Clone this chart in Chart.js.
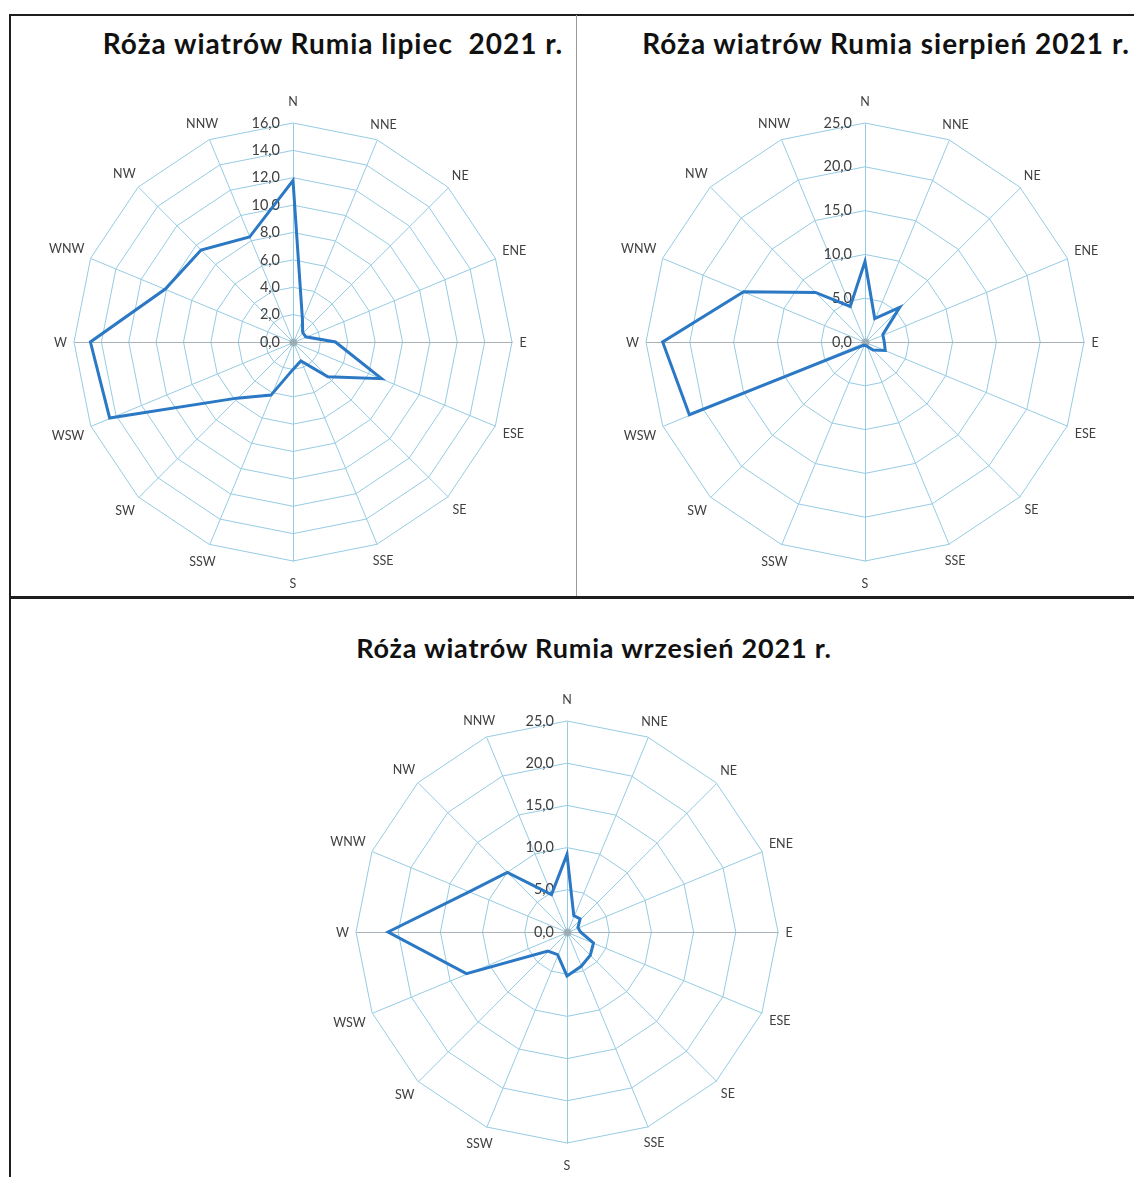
<!DOCTYPE html>
<html>
<head>
<meta charset="utf-8">
<script src="https://cdn.jsdelivr.net/npm/chart.js@4.4.1/dist/chart.umd.min.js"></script>
<style>
  body { margin: 0; background: #fff; }
  #page { position: relative; width: 1134px; height: 1177px; overflow: hidden; background: #fff; }
  .line { position: absolute; background: #1e1e1e; }
  .title { position: absolute; font-family: Lato, sans-serif; font-weight: bold; font-size: 28px;
           line-height: 28px; letter-spacing: 1px; color: #111; white-space: pre; text-align: center; }
  canvas { position: absolute; }
</style>
</head>
<body>
<div id="page">
  <div class="line" style="left:9px; top:14px; width:1125px; height:2px;"></div>
  <div class="line" style="left:9px; top:14px; width:2px; height:1163px;"></div>
  <div class="line" style="left:576px; top:15px; width:1px; height:582px; background:#9a9a9a;"></div>
  <div class="line" style="left:9px; top:596px; width:1125px; height:3px;"></div>

  <div class="title" id="t1" style="left:83px; top:29px; width:500px;"></div>
  <div class="title" id="t2" style="left:636px; top:29px; width:500px;"></div>
  <div class="title" id="t3" style="left:344px; top:634px; width:500px; font-size:27px; line-height:27px; letter-spacing:0.8px;"></div>

  <canvas id="chartJuly" width="565" height="581" style="left:10px; top:15px;"></canvas>
  <canvas id="chartAugust" width="558" height="581" style="left:576px; top:15px;"></canvas>
  <canvas id="chartSeptember" width="1124" height="579" style="left:10px; top:598px;"></canvas>
</div>

<script>
// data
const directions = ["N", "NNE", "NE", "ENE", "E", "ESE", "SE", "SSE", "S", "SSW", "SW", "WSW", "W", "WNW", "NW", "NNW"];
const julyValues = [11.8, 1.8, 1.0, 1.0, 3.1, 7.0, 3.6, 1.5, 2.0, 4.2, 5.8, 14.5, 14.8, 10.1, 9.5, 8.3];
const augustValues = [9.2, 2.9, 5.6, 2.2, 2.2, 2.5, 1.3, 0.5, 0.4, 0.4, 0.7, 21.7, 23.1, 15.0, 8.0, 4.4];
const septemberValues = [9.2, 2.1, 2.2, 1.4, 1.6, 3.4, 3.9, 4.4, 5.2, 2.9, 3.2, 12.9, 21.2, 12.5, 10.0, 4.8];
const titles = [
  "Róża wiatrów Rumia lipiec  2021 r.",
  "Róża wiatrów Rumia sierpień 2021 r.",
  "Róża wiatrów Rumia wrzesień 2021 r.",
];
const julyTicks = { max: 16, step: 2 };
const augustTicks = { max: 25, step: 5 };
const septemberTicks = { max: 25, step: 5 };

document.getElementById("t1").textContent = titles[0];
document.getElementById("t2").textContent = titles[1];
document.getElementById("t3").textContent = titles[2];

const gridBlue = "#96cbe3";
const textGray = "#404040";

// spokes, gray W-E axis, tick labels left of the N axis, compass labels round the outer ring
const roseLabels = {
  id: "roseLabels",
  beforeDatasetsDraw(chart) {
    const scale = chart.scales.r;
    const ctx = chart.ctx;
    const R = scale.drawingArea;
    const cx = scale.xCenter + 0.5;
    const cy = scale.yCenter + 0.5;
    ctx.save();
    ctx.lineWidth = 1;
    chart.data.labels.forEach(function (label, i) {
      const p = scale.getPointPosition(i, R);
      ctx.strokeStyle = i % 8 === 4 ? "#a7b1b6" : gridBlue;
      ctx.beginPath();
      ctx.moveTo(cx, cy);
      ctx.lineTo(p.x + 0.5 + (i % 4 === 2 ? 0.3 : 0), p.y + 0.5);
      ctx.stroke();
    });
    ctx.fillStyle = "rgba(150,150,150,0.55)";
    ctx.beginPath();
    ctx.arc(cx, cy, 4, 0, Math.PI * 2);
    ctx.fill();

    ctx.font = "14.5px Lato";
    ctx.fillStyle = textGray;
    ctx.textAlign = "right";
    ctx.textBaseline = "middle";
    scale.ticks.forEach(function (t) {
      const y = scale.yCenter - scale.getDistanceFromCenterForValue(t.value);
      ctx.fillText(t.value.toFixed(1).replace(".", ","), scale.xCenter - 13, y);
    });
    ctx.restore();
  },
  afterDraw(chart) {
    const scale = chart.scales.r;
    const ctx = chart.ctx;
    const R = scale.drawingArea;
    ctx.save();
    ctx.font = "12.5px Lato";
    ctx.fillStyle = textGray;
    ctx.textAlign = "center";
    ctx.textBaseline = "middle";
    chart.data.labels.forEach(function (label, i) {
      const p = scale.getPointPosition(i, 100);
      const sx = (p.x - scale.xCenter) / 100;
      const sy = (p.y - scale.yCenter) / 100;
      const w = ctx.measureText(label).width;
      const hw = Math.abs(sx) < 0.01 ? 0 : Math.sign(sx) * w / 2;
      const hh = Math.abs(sy) < 0.01 ? 0 : Math.sign(sy) * 6;
      const gap = Math.abs(sx) < 0.01 ? 16 : 7;
      let d = R;
      while (Math.hypot(d * sx - hw, d * sy - hh) < R + gap) d += 0.5;
      ctx.fillText(label, scale.xCenter + d * sx, scale.yCenter + d * sy + 1);
    });
    ctx.restore();
  },
};

function makeRose(id, values, ticks, padding) {
  const ctx = document.getElementById(id).getContext("2d");
  return new Chart(ctx, {
    type: "radar",
    data: {
      labels: directions,
      datasets: [
        {
          label: "",
          data: values,
          borderColor: "#2b78c4",
          borderWidth: 3,
          backgroundColor: "rgba(0,0,0,0)",
          fill: false,
          pointRadius: 0,
          tension: 0,
        },
      ],
    },
    options: {
      responsive: false,
      animation: false,
      layout: { padding: padding },
      plugins: {
        legend: { display: false },
        tooltip: { enabled: false },
      },
      scales: {
        r: {
          min: 0,
          max: ticks.max,
          ticks: { stepSize: ticks.step, display: false },
          pointLabels: { display: false },
          grid: { color: gridBlue, lineWidth: 1 },
          angleLines: { display: false },
        },
      },
    },
    plugins: [roseLabels],
  });
}

makeRose("chartJuly", julyValues, julyTicks, { left: 64, right: 63, top: 108, bottom: 35 });
makeRose("chartAugust", augustValues, augustTicks, { left: 70, right: 50, top: 108, bottom: 35 });
makeRose("chartSeptember", septemberValues, septemberTicks, { left: 346, right: 356, top: 123, bottom: 34 });
</script>
</body>
</html>
